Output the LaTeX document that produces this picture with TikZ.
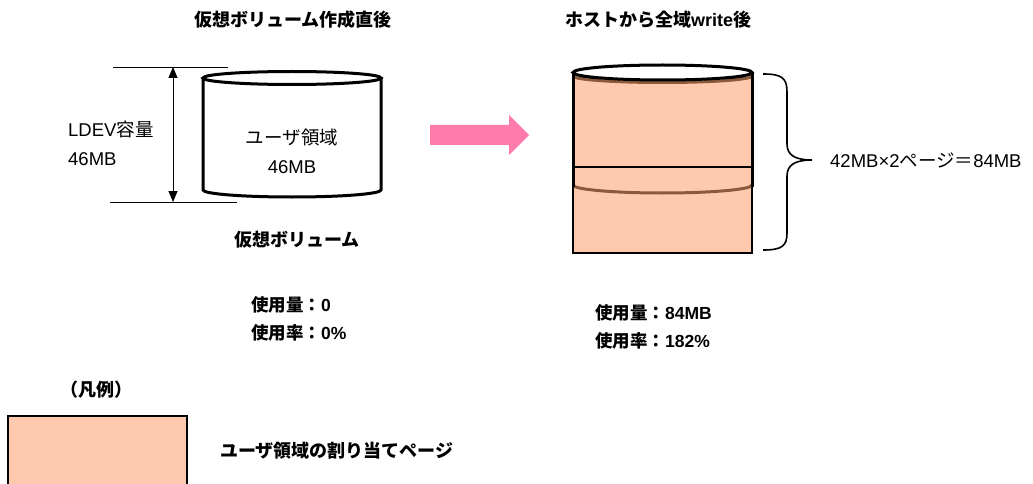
\documentclass[tikz,border=0pt]{standalone}
\usepackage{fontspec}
\setmainfont{Liberation Sans}
\newfontfamily\jp{Noto Sans CJK JP}
\usetikzlibrary{arrows.meta}
\definecolor{pagefill}{HTML}{FFC9AE}
\definecolor{pinkarrow}{HTML}{FF7BAC}
\definecolor{edgebrown}{HTML}{8B5A3C}

\begin{document}
\begin{tikzpicture}[x=1pt,y=-1pt,
    txt/.style={font=\fontsize{18.5}{29}\selectfont, inner sep=0pt},
    boldtxt/.style={font=\fontsize{18}{28}\selectfont\bfseries, inner sep=0pt, align=left},
    stattxt/.style={font=\fontsize{17.5}{28}\selectfont\bfseries, inner sep=0pt, align=left},
    page/.style={draw, fill=pagefill, line width=1.2pt},
    can/.style={line width=3pt},
    thinline/.style={line width=0.8pt}]
    \useasboundingbox (0,0) rectangle (1033,484);

    % titles
    \node[boldtxt] (before) at (293,20) {\jp 仮想ボリューム作成直後};
    \node[boldtxt] (after) at (658,20) {{\jp ホストから全域}write{\jp 後}};

    % virtual volume, just created
    \draw[can, fill=white] (203,78) -- (203,190)
        arc[start angle=180, end angle=0, x radius=89, y radius=7] -- (381,78);
    \draw[can, fill=white] (292,78) ellipse[x radius=89, y radius=6.5];
    \node[txt, align=center] (userarea) at (292,151) {{\jp ユーザ領域}\\46MB};
    \node[boldtxt] (vvol) at (297,240) {\jp 仮想ボリューム};

    % LDEV capacity
    \coordinate (ldevtopl) at (113,67);
    \coordinate (ldevtopr) at (228,67);
    \coordinate (ldevbotl) at (110,202);
    \coordinate (ldevbotr) at (237,202);
    \coordinate (ldevtop) at (173,67);
    \coordinate (ldevbot) at (173,202);
    \draw[thinline] (ldevtopl) -- (ldevtopr);
    \draw[thinline] (ldevbotl) -- (ldevbotr);
    \draw[thinline, {Triangle[length=11pt,width=9pt]}-{Triangle[length=11pt,width=9pt]}] (ldevtop) -- (ldevbot);
    \node[txt, align=left, anchor=west] (ldev) at (68,143) {LDEV{\jp 容量}\\46MB};

    \node[stattxt, anchor=west] (usebefore) at (251,319) {{\jp 使用量：}0\\{\jp 使用率：}0\%};

    % arrow
    \fill[pinkarrow] (430,125) -- (509,125) -- (509,115) -- (529,135)
        -- (509,155) -- (509,145) -- (430,145) -- cycle;

    % virtual volume after write
    \draw[page] (573,78) rectangle (752,167);
    \draw[page] (573,167) rectangle (752,253);
    \draw[edgebrown, can] (573,76) arc[start angle=180, end angle=0, x radius=89.5, y radius=6.5];
    \draw[edgebrown, can] (573,185) arc[start angle=180, end angle=0, x radius=89.5, y radius=8];
    \draw[can] (573,72) -- (573,187);
    \draw[can] (752,72) -- (752,187);
    \draw[can, fill=white] (662.5,72.5) ellipse[x radius=89.5, y radius=7.5];

    % brace
    \draw[line width=1.6pt] (763,74) .. controls (782,74) and (787,78) .. (787,92)
        -- (787,144) .. controls (787,155) and (795,160) .. (812,160)
        .. controls (795,160) and (787,165) .. (787,176)
        -- (787,233) .. controls (787,246) and (782,250) .. (763,250);
    \node[txt, anchor=west] (pages) at (830,160) {42MB×2{\jp ページ＝}84MB};

    \node[stattxt, anchor=west] (useafter) at (595,327) {{\jp 使用量：}84MB\\{\jp 使用率：}182\%};

    % legend
    \node[boldtxt] (legend) at (96,390) {\jp （凡例）};
    \draw[page] (8,416) rectangle (187,500);
    \node[boldtxt, anchor=west] (legendtxt) at (220,451) {\jp ユーザ領域の割り当てページ};
\end{tikzpicture}
\end{document}
